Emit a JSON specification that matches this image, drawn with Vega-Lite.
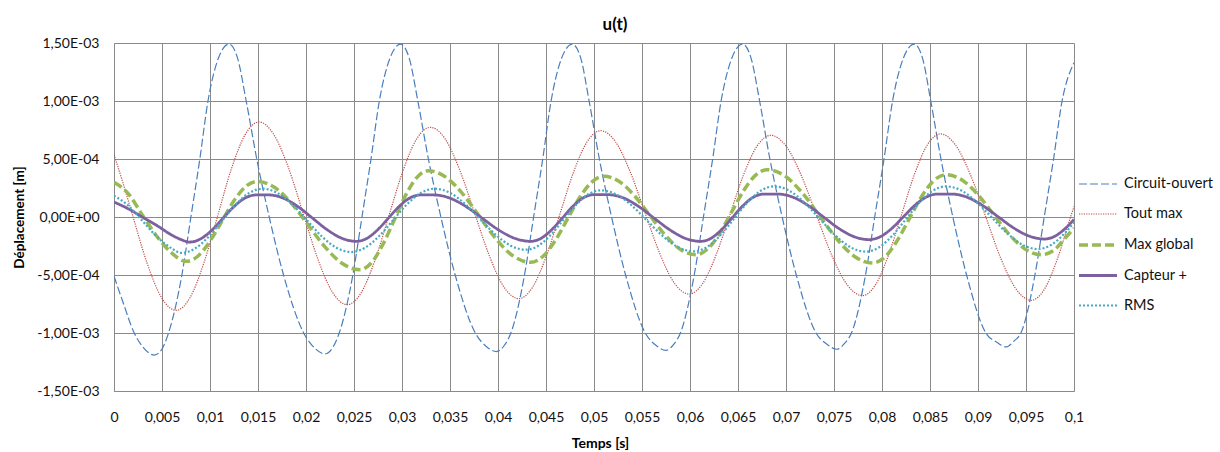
{
"$schema": "https://vega.github.io/schema/vega-lite/v6.json",
"width": 960, "height": 348,
"autosize": {"type": "none"},
"padding": {"left": 114, "top": 43, "right": 146, "bottom": 61},
"background": "white",
"title": {"text": "u(t)", "fontSize": 17, "font": "Lato", "fontWeight": "bold", "color": "#000", "anchor": "middle", "dx": 21, "offset": 2},
"config": {"view": {"stroke": null}, "font": "Lato"},
"data": {"values": [
{"s":"Circuit-ouvert","t":0,"v":-5.1e-4},{"s":"Circuit-ouvert","t":1.0e-3,"v":-7.5e-4},{"s":"Circuit-ouvert","t":2.0e-3,"v":-9.8e-4},{"s":"Circuit-ouvert","t":3.0e-3,"v":-11.2e-4},{"s":"Circuit-ouvert","t":4.2e-3,"v":-11.9e-4},{"s":"Circuit-ouvert","t":4.98e-3,"v":-11.4e-4},{"s":"Circuit-ouvert","t":5.68e-3,"v":-10e-4},{"s":"Circuit-ouvert","t":7.07e-3,"v":-5e-4},{"s":"Circuit-ouvert","t":8.01e-3,"v":0},{"s":"Circuit-ouvert","t":8.94e-3,"v":5e-4},{"s":"Circuit-ouvert","t":9.79e-3,"v":10e-4},{"s":"Circuit-ouvert","t":10.88e-3,"v":13.7e-4},{"s":"Circuit-ouvert","t":11.97e-3,"v":14.9e-4},
{"s":"Circuit-ouvert","t":12.87e-3,"v":13.7e-4},{"s":"Circuit-ouvert","t":13.77e-3,"v":10e-4},{"s":"Circuit-ouvert","t":14.87e-3,"v":5e-4},{"s":"Circuit-ouvert","t":16.17e-3,"v":0},{"s":"Circuit-ouvert","t":17.66e-3,"v":-5e-4},{"s":"Circuit-ouvert","t":19.76e-3,"v":-10e-4},{"s":"Circuit-ouvert","t":20.96e-3,"v":-11.35e-4},{"s":"Circuit-ouvert","t":21.96e-3,"v":-11.8e-4},
{"s":"Circuit-ouvert","t":22.75e-3,"v":-11.3e-4},{"s":"Circuit-ouvert","t":23.46e-3,"v":-10e-4},{"s":"Circuit-ouvert","t":24.88e-3,"v":-5e-4},{"s":"Circuit-ouvert","t":25.83e-3,"v":0},{"s":"Circuit-ouvert","t":26.77e-3,"v":5e-4},{"s":"Circuit-ouvert","t":27.64e-3,"v":10e-4},{"s":"Circuit-ouvert","t":28.75e-3,"v":13.7e-4},{"s":"Circuit-ouvert","t":29.85e-3,"v":14.9e-4},
{"s":"Circuit-ouvert","t":30.75e-3,"v":13.7e-4},{"s":"Circuit-ouvert","t":31.65e-3,"v":10e-4},{"s":"Circuit-ouvert","t":32.75e-3,"v":5e-4},{"s":"Circuit-ouvert","t":34.05e-3,"v":0},{"s":"Circuit-ouvert","t":35.54e-3,"v":-5e-4},{"s":"Circuit-ouvert","t":37.64e-3,"v":-10e-4},{"s":"Circuit-ouvert","t":38.84e-3,"v":-11.2e-4},{"s":"Circuit-ouvert","t":39.84e-3,"v":-11.6e-4},
{"s":"Circuit-ouvert","t":40.63e-3,"v":-11.1e-4},{"s":"Circuit-ouvert","t":41.34e-3,"v":-10e-4},{"s":"Circuit-ouvert","t":42.76e-3,"v":-5e-4},{"s":"Circuit-ouvert","t":43.71e-3,"v":0},{"s":"Circuit-ouvert","t":44.66e-3,"v":5e-4},{"s":"Circuit-ouvert","t":45.53e-3,"v":10e-4},{"s":"Circuit-ouvert","t":46.63e-3,"v":13.7e-4},{"s":"Circuit-ouvert","t":47.74e-3,"v":14.9e-4},
{"s":"Circuit-ouvert","t":48.62e-3,"v":13.7e-4},{"s":"Circuit-ouvert","t":49.49e-3,"v":10e-4},{"s":"Circuit-ouvert","t":50.56e-3,"v":5e-4},{"s":"Circuit-ouvert","t":51.83e-3,"v":0},{"s":"Circuit-ouvert","t":53.29e-3,"v":-5e-4},{"s":"Circuit-ouvert","t":55.34e-3,"v":-10e-4},{"s":"Circuit-ouvert","t":56.51e-3,"v":-11.1e-4},{"s":"Circuit-ouvert","t":57.48e-3,"v":-11.5e-4},
{"s":"Circuit-ouvert","t":58.28e-3,"v":-11.0e-4},{"s":"Circuit-ouvert","t":59.0e-3,"v":-10e-4},{"s":"Circuit-ouvert","t":60.44e-3,"v":-5e-4},{"s":"Circuit-ouvert","t":61.4e-3,"v":0},{"s":"Circuit-ouvert","t":62.36e-3,"v":5e-4},{"s":"Circuit-ouvert","t":63.24e-3,"v":10e-4},{"s":"Circuit-ouvert","t":64.36e-3,"v":13.7e-4},{"s":"Circuit-ouvert","t":65.48e-3,"v":14.9e-4},
{"s":"Circuit-ouvert","t":66.36e-3,"v":13.7e-4},{"s":"Circuit-ouvert","t":67.25e-3,"v":10e-4},{"s":"Circuit-ouvert","t":68.32e-3,"v":5e-4},{"s":"Circuit-ouvert","t":69.6e-3,"v":0},{"s":"Circuit-ouvert","t":71.07e-3,"v":-5e-4},{"s":"Circuit-ouvert","t":73.13e-3,"v":-10e-4},{"s":"Circuit-ouvert","t":74.31e-3,"v":-11.0e-4},{"s":"Circuit-ouvert","t":75.29e-3,"v":-11.4e-4},
{"s":"Circuit-ouvert","t":76.1e-3,"v":-10.9e-4},{"s":"Circuit-ouvert","t":76.82e-3,"v":-10e-4},{"s":"Circuit-ouvert","t":78.28e-3,"v":-5e-4},{"s":"Circuit-ouvert","t":79.24e-3,"v":0},{"s":"Circuit-ouvert","t":80.21e-3,"v":5e-4},{"s":"Circuit-ouvert","t":81.1e-3,"v":10e-4},{"s":"Circuit-ouvert","t":82.23e-3,"v":13.7e-4},{"s":"Circuit-ouvert","t":83.36e-3,"v":14.9e-4},
{"s":"Circuit-ouvert","t":84.22e-3,"v":13.7e-4},{"s":"Circuit-ouvert","t":85.08e-3,"v":10e-4},{"s":"Circuit-ouvert","t":86.14e-3,"v":5e-4},{"s":"Circuit-ouvert","t":87.38e-3,"v":0},{"s":"Circuit-ouvert","t":88.81e-3,"v":-5e-4},{"s":"Circuit-ouvert","t":90.82e-3,"v":-10e-4},{"s":"Circuit-ouvert","t":91.97e-3,"v":-10.8e-4},{"s":"Circuit-ouvert","t":92.93e-3,"v":-11.2e-4},
{"s":"Circuit-ouvert","t":93.74e-3,"v":-10.7e-4},{"s":"Circuit-ouvert","t":94.47e-3,"v":-10e-4},{"s":"Circuit-ouvert","t":95.93e-3,"v":-5e-4},{"s":"Circuit-ouvert","t":96.9e-3,"v":0},{"s":"Circuit-ouvert","t":97.87e-3,"v":5e-4},{"s":"Circuit-ouvert","t":98.76e-3,"v":10e-4},{"s":"Circuit-ouvert","t":100e-3,"v":13.3e-4},

{"s":"Tout max","t":0,"v":5.37e-4},{"s":"Tout max","t":0.97e-3,"v":2.85e-4},{"s":"Tout max","t":1.89e-3,"v":0.28e-4},{"s":"Tout max","t":3.41e-3,"v":-3.89e-4},{"s":"Tout max","t":4.94e-3,"v":-6.93e-4},{"s":"Tout max","t":6.47e-3,"v":-8.05e-4},
{"s":"Tout max","t":7.91e-3,"v":-6.96e-4},{"s":"Tout max","t":9.35e-3,"v":-3.99e-4},{"s":"Tout max","t":10.79e-3,"v":0.07e-4},{"s":"Tout max","t":12.22e-3,"v":4.13e-4},{"s":"Tout max","t":13.66e-3,"v":7.10e-4},{"s":"Tout max","t":15.1e-3,"v":8.19e-4},
{"s":"Tout max","t":16.63e-3,"v":7.13e-4},{"s":"Tout max","t":18.17e-3,"v":4.25e-4},{"s":"Tout max","t":19.7e-3,"v":0.32e-4},{"s":"Tout max","t":21.23e-3,"v":-3.62e-4},{"s":"Tout max","t":22.77e-3,"v":-6.50e-4},{"s":"Tout max","t":24.3e-3,"v":-7.56e-4},
{"s":"Tout max","t":25.74e-3,"v":-6.54e-4},{"s":"Tout max","t":27.18e-3,"v":-3.74e-4},{"s":"Tout max","t":28.63e-3,"v":0.09e-4},{"s":"Tout max","t":30.07e-3,"v":3.91e-4},{"s":"Tout max","t":31.51e-3,"v":6.71e-4},{"s":"Tout max","t":32.95e-3,"v":7.73e-4},
{"s":"Tout max","t":34.49e-3,"v":6.74e-4},{"s":"Tout max","t":36.02e-3,"v":4.04e-4},{"s":"Tout max","t":37.56e-3,"v":0.35e-4},{"s":"Tout max","t":39.1e-3,"v":-3.35e-4},{"s":"Tout max","t":40.63e-3,"v":-6.05e-4},{"s":"Tout max","t":42.17e-3,"v":-7.04e-4},
{"s":"Tout max","t":43.59e-3,"v":-6.07e-4},{"s":"Tout max","t":45.01e-3,"v":-3.42e-4},{"s":"Tout max","t":46.43e-3,"v":0.2e-4},{"s":"Tout max","t":47.85e-3,"v":3.82e-4},{"s":"Tout max","t":49.27e-3,"v":6.47e-4},{"s":"Tout max","t":50.69e-3,"v":7.44e-4},
{"s":"Tout max","t":52.23e-3,"v":6.50e-4},{"s":"Tout max","t":53.76e-3,"v":3.92e-4},{"s":"Tout max","t":55.3e-3,"v":0.4e-4},{"s":"Tout max","t":56.84e-3,"v":-3.12e-4},{"s":"Tout max","t":58.37e-3,"v":-5.70e-4},{"s":"Tout max","t":59.91e-3,"v":-6.64e-4},
{"s":"Tout max","t":61.33e-3,"v":-5.72e-4},{"s":"Tout max","t":62.74e-3,"v":-3.22e-4},{"s":"Tout max","t":64.16e-3,"v":0.2e-4},{"s":"Tout max","t":65.57e-3,"v":3.62e-4},{"s":"Tout max","t":66.99e-3,"v":6.12e-4},{"s":"Tout max","t":68.4e-3,"v":7.04e-4},
{"s":"Tout max","t":70.0e-3,"v":6.11e-4},{"s":"Tout max","t":71.59e-3,"v":3.59e-4},{"s":"Tout max","t":73.19e-3,"v":0.13e-4},{"s":"Tout max","t":74.78e-3,"v":-3.33e-4},{"s":"Tout max","t":76.38e-3,"v":-5.85e-4},{"s":"Tout max","t":77.97e-3,"v":-6.78e-4},
{"s":"Tout max","t":79.32e-3,"v":-5.85e-4},{"s":"Tout max","t":80.67e-3,"v":-3.30e-4},{"s":"Tout max","t":82.03e-3,"v":0.19e-4},{"s":"Tout max","t":83.38e-3,"v":3.68e-4},{"s":"Tout max","t":84.73e-3,"v":6.23e-4},{"s":"Tout max","t":86.08e-3,"v":7.16e-4},
{"s":"Tout max","t":87.66e-3,"v":6.20e-4},{"s":"Tout max","t":89.24e-3,"v":3.58e-4},{"s":"Tout max","t":90.82e-3,"v":-0.01e-4},{"s":"Tout max","t":92.39e-3,"v":-3.60e-4},{"s":"Tout max","t":93.97e-3,"v":-6.22e-4},{"s":"Tout max","t":95.55e-3,"v":-7.18e-4},
{"s":"Tout max","t":96.92e-3,"v":-6.22e-4},{"s":"Tout max","t":98.28e-3,"v":-3.59e-4},{"s":"Tout max","t":99.65e-3,"v":0.01e-4},{"s":"Tout max","t":100e-3,"v":0.9e-4},

{"s":"Max global","t":0,"v":2.99e-4},{"s":"Max global","t":1.5e-3,"v":2.0e-4},{"s":"Max global","t":3.0e-3,"v":0.1e-4},{"s":"Max global","t":4.5e-3,"v":-1.7e-4},{"s":"Max global","t":6.0e-3,"v":-3.1e-4},{"s":"Max global","t":7.52e-3,"v":-3.82e-4},
{"s":"Max global","t":8.76e-3,"v":-3.36e-4},{"s":"Max global","t":9.99e-3,"v":-2.10e-4},{"s":"Max global","t":11.23e-3,"v":-0.38e-4},{"s":"Max global","t":12.46e-3,"v":1.35e-4},{"s":"Max global","t":13.70e-3,"v":2.61e-4},{"s":"Max global","t":14.93e-3,"v":3.07e-4},
{"s":"Max global","t":16.71e-3,"v":2.56e-4},{"s":"Max global","t":18.49e-3,"v":1.17e-4},{"s":"Max global","t":20.27e-3,"v":-0.74e-4},{"s":"Max global","t":22.04e-3,"v":-2.64e-4},{"s":"Max global","t":23.82e-3,"v":-4.03e-4},{"s":"Max global","t":25.6e-3,"v":-4.54e-4},
{"s":"Max global","t":26.79e-3,"v":-3.97e-4},{"s":"Max global","t":27.98e-3,"v":-2.41e-4},{"s":"Max global","t":29.18e-3,"v":-0.28e-4},{"s":"Max global","t":30.37e-3,"v":1.86e-4},{"s":"Max global","t":31.56e-3,"v":3.42e-4},{"s":"Max global","t":32.75e-3,"v":3.99e-4},
{"s":"Max global","t":34.52e-3,"v":3.46e-4},{"s":"Max global","t":36.3e-3,"v":2.02e-4},{"s":"Max global","t":38.07e-3,"v":0.04e-4},{"s":"Max global","t":39.84e-3,"v":-1.94e-4},{"s":"Max global","t":41.62e-3,"v":-3.38e-4},{"s":"Max global","t":43.39e-3,"v":-3.91e-4},
{"s":"Max global","t":44.67e-3,"v":-3.41e-4},{"s":"Max global","t":45.94e-3,"v":-2.06e-4},{"s":"Max global","t":47.22e-3,"v":-0.2e-4},{"s":"Max global","t":48.49e-3,"v":1.66e-4},{"s":"Max global","t":49.77e-3,"v":3.01e-4},{"s":"Max global","t":51.04e-3,"v":3.51e-4},
{"s":"Max global","t":52.63e-3,"v":3.06e-4},{"s":"Max global","t":54.23e-3,"v":1.82e-4},{"s":"Max global","t":55.82e-3,"v":0.13e-4},{"s":"Max global","t":57.41e-3,"v":-1.56e-4},{"s":"Max global","t":59.01e-3,"v":-2.80e-4},{"s":"Max global","t":60.6e-3,"v":-3.25e-4},
{"s":"Max global","t":61.84e-3,"v":-2.76e-4},{"s":"Max global","t":63.08e-3,"v":-1.42e-4},{"s":"Max global","t":64.33e-3,"v":0.42e-4},{"s":"Max global","t":65.57e-3,"v":2.25e-4},{"s":"Max global","t":66.81e-3,"v":3.59e-4},{"s":"Max global","t":68.05e-3,"v":4.08e-4},
{"s":"Max global","t":69.88e-3,"v":3.54e-4},{"s":"Max global","t":71.7e-3,"v":2.07e-4},{"s":"Max global","t":73.53e-3,"v":0.06e-4},{"s":"Max global","t":75.36e-3,"v":-1.96e-4},{"s":"Max global","t":77.18e-3,"v":-3.43e-4},{"s":"Max global","t":79.01e-3,"v":-3.97e-4},
{"s":"Max global","t":80.29e-3,"v":-3.46e-4},{"s":"Max global","t":81.56e-3,"v":-2.07e-4},{"s":"Max global","t":82.84e-3,"v":-0.16e-4},{"s":"Max global","t":84.11e-3,"v":1.75e-4},{"s":"Max global","t":85.39e-3,"v":3.14e-4},{"s":"Max global","t":86.67e-3,"v":3.65e-4},
{"s":"Max global","t":88.33e-3,"v":3.19e-4},{"s":"Max global","t":89.98e-3,"v":1.93e-4},{"s":"Max global","t":91.64e-3,"v":0.2e-4},{"s":"Max global","t":93.29e-3,"v":-1.53e-4},{"s":"Max global","t":94.95e-3,"v":-2.79e-4},{"s":"Max global","t":96.6e-3,"v":-3.25e-4},
{"s":"Max global","t":97.85e-3,"v":-2.9e-4},{"s":"Max global","t":99.1e-3,"v":-1.8e-4},{"s":"Max global","t":100e-3,"v":-0.95e-4},

{"s":"Capteur +","t":0,"v":1.29e-4},{"s":"Capteur +","t":1.5e-3,"v":0.7e-4},{"s":"Capteur +","t":3.0e-3,"v":-0.03e-4},{"s":"Capteur +","t":4.5e-3,"v":-0.75e-4},{"s":"Capteur +","t":6.0e-3,"v":-1.55e-4},{"s":"Capteur +","t":7.0e-3,"v":-1.95e-4},{"s":"Capteur +","t":7.86e-3,"v":-2.16e-4},
{"s":"Capteur +","t":9.02e-3,"v":-1.89e-4},{"s":"Capteur +","t":10.17e-3,"v":-1.15e-4},{"s":"Capteur +","t":11.33e-3,"v":-0.13e-4},{"s":"Capteur +","t":12.49e-3,"v":0.89e-4},{"s":"Capteur +","t":13.64e-3,"v":1.63e-4},{"s":"Capteur +","t":14.8e-3,"v":1.90e-4},{"s":"Capteur +","t":16.1e-3,"v":1.90e-4},
{"s":"Capteur +","t":17.63e-3,"v":1.63e-4},{"s":"Capteur +","t":19.15e-3,"v":0.90e-4},{"s":"Capteur +","t":20.68e-3,"v":-0.10e-4},{"s":"Capteur +","t":22.21e-3,"v":-1.10e-4},{"s":"Capteur +","t":23.73e-3,"v":-1.83e-4},{"s":"Capteur +","t":25.26e-3,"v":-2.10e-4},
{"s":"Capteur +","t":26.37e-3,"v":-1.83e-4},{"s":"Capteur +","t":27.47e-3,"v":-1.10e-4},{"s":"Capteur +","t":28.58e-3,"v":-0.10e-4},{"s":"Capteur +","t":29.69e-3,"v":0.90e-4},{"s":"Capteur +","t":30.79e-3,"v":1.63e-4},{"s":"Capteur +","t":31.9e-3,"v":1.90e-4},{"s":"Capteur +","t":33.3e-3,"v":1.90e-4},
{"s":"Capteur +","t":34.98e-3,"v":1.63e-4},{"s":"Capteur +","t":36.67e-3,"v":0.90e-4},{"s":"Capteur +","t":38.35e-3,"v":-0.10e-4},{"s":"Capteur +","t":40.03e-3,"v":-1.10e-4},{"s":"Capteur +","t":41.72e-3,"v":-1.83e-4},{"s":"Capteur +","t":43.4e-3,"v":-2.10e-4},
{"s":"Capteur +","t":44.5e-3,"v":-1.83e-4},{"s":"Capteur +","t":45.6e-3,"v":-1.09e-4},{"s":"Capteur +","t":46.7e-3,"v":-0.09e-4},{"s":"Capteur +","t":47.8e-3,"v":0.92e-4},{"s":"Capteur +","t":48.9e-3,"v":1.66e-4},{"s":"Capteur +","t":50.0e-3,"v":1.93e-4},{"s":"Capteur +","t":51.4e-3,"v":1.93e-4},
{"s":"Capteur +","t":53.02e-3,"v":1.66e-4},{"s":"Capteur +","t":54.63e-3,"v":0.92e-4},{"s":"Capteur +","t":56.25e-3,"v":-0.09e-4},{"s":"Capteur +","t":57.87e-3,"v":-1.09e-4},{"s":"Capteur +","t":59.48e-3,"v":-1.83e-4},{"s":"Capteur +","t":61.1e-3,"v":-2.10e-4},
{"s":"Capteur +","t":62.2e-3,"v":-1.83e-4},{"s":"Capteur +","t":63.3e-3,"v":-1.08e-4},{"s":"Capteur +","t":64.4e-3,"v":-0.06e-4},{"s":"Capteur +","t":65.5e-3,"v":0.96e-4},{"s":"Capteur +","t":66.6e-3,"v":1.71e-4},{"s":"Capteur +","t":67.7e-3,"v":1.98e-4},{"s":"Capteur +","t":69.1e-3,"v":1.98e-4},
{"s":"Capteur +","t":70.69e-3,"v":1.72e-4},{"s":"Capteur +","t":72.29e-3,"v":1.00e-4},{"s":"Capteur +","t":73.88e-3,"v":0.02e-4},{"s":"Capteur +","t":75.47e-3,"v":-0.97e-4},{"s":"Capteur +","t":77.07e-3,"v":-1.69e-4},{"s":"Capteur +","t":78.66e-3,"v":-1.95e-4},
{"s":"Capteur +","t":79.85e-3,"v":-1.69e-4},{"s":"Capteur +","t":81.04e-3,"v":-0.97e-4},{"s":"Capteur +","t":82.23e-3,"v":0.02e-4},{"s":"Capteur +","t":83.42e-3,"v":1.00e-4},{"s":"Capteur +","t":84.61e-3,"v":1.72e-4},{"s":"Capteur +","t":85.8e-3,"v":1.98e-4},{"s":"Capteur +","t":87.2e-3,"v":1.98e-4},
{"s":"Capteur +","t":88.82e-3,"v":1.72e-4},{"s":"Capteur +","t":90.44e-3,"v":1.01e-4},{"s":"Capteur +","t":92.07e-3,"v":0.04e-4},{"s":"Capteur +","t":93.69e-3,"v":-0.93e-4},{"s":"Capteur +","t":95.31e-3,"v":-1.64e-4},{"s":"Capteur +","t":96.93e-3,"v":-1.90e-4},
{"s":"Capteur +","t":98.05e-3,"v":-1.64e-4},{"s":"Capteur +","t":99.16e-3,"v":-0.93e-4},{"s":"Capteur +","t":100e-3,"v":-0.22e-4},

{"s":"RMS","t":0,"v":1.84e-4},{"s":"RMS","t":1.5e-3,"v":0.97e-4},{"s":"RMS","t":3.0e-3,"v":-0.37e-4},{"s":"RMS","t":4.5e-3,"v":-1.72e-4},{"s":"RMS","t":6.0e-3,"v":-2.70e-4},{"s":"RMS","t":7.0e-3,"v":-3.10e-4},
{"s":"RMS","t":8.42e-3,"v":-2.73e-4},{"s":"RMS","t":9.83e-3,"v":-1.72e-4},{"s":"RMS","t":11.25e-3,"v":-0.33e-4},{"s":"RMS","t":12.67e-3,"v":1.06e-4},{"s":"RMS","t":14.08e-3,"v":2.07e-4},{"s":"RMS","t":15.5e-3,"v":2.44e-4},
{"s":"RMS","t":17.03e-3,"v":2.07e-4},{"s":"RMS","t":18.57e-3,"v":1.08e-4},{"s":"RMS","t":20.1e-3,"v":-0.29e-4},{"s":"RMS","t":21.63e-3,"v":-1.66e-4},{"s":"RMS","t":23.17e-3,"v":-2.65e-4},{"s":"RMS","t":24.7e-3,"v":-3.02e-4},
{"s":"RMS","t":26.15e-3,"v":-2.65e-4},{"s":"RMS","t":27.6e-3,"v":-1.66e-4},{"s":"RMS","t":29.05e-3,"v":-0.29e-4},{"s":"RMS","t":30.5e-3,"v":1.08e-4},{"s":"RMS","t":31.95e-3,"v":2.07e-4},{"s":"RMS","t":33.4e-3,"v":2.44e-4},
{"s":"RMS","t":34.98e-3,"v":2.09e-4},{"s":"RMS","t":36.57e-3,"v":1.13e-4},{"s":"RMS","t":38.15e-3,"v":-0.19e-4},{"s":"RMS","t":39.73e-3,"v":-1.51e-4},{"s":"RMS","t":41.32e-3,"v":-2.47e-4},{"s":"RMS","t":42.9e-3,"v":-2.82e-4},
{"s":"RMS","t":44.2e-3,"v":-2.48e-4},{"s":"RMS","t":45.5e-3,"v":-1.54e-4},{"s":"RMS","t":46.8e-3,"v":-0.26e-4},{"s":"RMS","t":48.1e-3,"v":1.02e-4},{"s":"RMS","t":49.4e-3,"v":1.96e-4},{"s":"RMS","t":50.7e-3,"v":2.30e-4},
{"s":"RMS","t":52.32e-3,"v":1.95e-4},{"s":"RMS","t":53.93e-3,"v":0.99e-4},{"s":"RMS","t":55.55e-3,"v":-0.33e-4},{"s":"RMS","t":57.17e-3,"v":-1.65e-4},{"s":"RMS","t":58.78e-3,"v":-2.61e-4},{"s":"RMS","t":60.4e-3,"v":-2.96e-4},
{"s":"RMS","t":61.79e-3,"v":-2.58e-4},{"s":"RMS","t":63.18e-3,"v":-1.56e-4},{"s":"RMS","t":64.58e-3,"v":-0.16e-4},{"s":"RMS","t":65.97e-3,"v":1.24e-4},{"s":"RMS","t":67.36e-3,"v":2.26e-4},{"s":"RMS","t":68.75e-3,"v":2.64e-4},
{"s":"RMS","t":70.35e-3,"v":2.26e-4},{"s":"RMS","t":71.94e-3,"v":1.23e-4},{"s":"RMS","t":73.54e-3,"v":-0.18e-4},{"s":"RMS","t":75.13e-3,"v":-1.58e-4},{"s":"RMS","t":76.73e-3,"v":-2.61e-4},{"s":"RMS","t":78.32e-3,"v":-2.99e-4},
{"s":"RMS","t":79.71e-3,"v":-2.61e-4},{"s":"RMS","t":81.1e-3,"v":-1.58e-4},{"s":"RMS","t":82.5e-3,"v":-0.18e-4},{"s":"RMS","t":83.89e-3,"v":1.23e-4},{"s":"RMS","t":85.28e-3,"v":2.26e-4},{"s":"RMS","t":86.67e-3,"v":2.64e-4},
{"s":"RMS","t":88.27e-3,"v":2.28e-4},{"s":"RMS","t":89.86e-3,"v":1.29e-4},{"s":"RMS","t":91.46e-3,"v":-0.06e-4},{"s":"RMS","t":93.05e-3,"v":-1.41e-4},{"s":"RMS","t":94.65e-3,"v":-2.40e-4},{"s":"RMS","t":96.24e-3,"v":-2.76e-4},
{"s":"RMS","t":97.63e-3,"v":-2.40e-4},{"s":"RMS","t":99.02e-3,"v":-1.41e-4},{"s":"RMS","t":100e-3,"v":-0.47e-4}
]},
"mark": {"type": "line", "interpolate": "monotone", "clip": true},
"encoding": {
"x": {"field": "t", "type": "quantitative", "scale": {"domain": [0, 0.1], "nice": false, "zero": false},
 "axis": {"values": [0,0.005,0.01,0.015,0.02,0.025,0.03,0.035,0.04,0.045,0.05,0.055,0.06,0.065,0.07,0.075,0.08,0.085,0.09,0.095,0.1],
  "labelExpr": "replace(format(datum.value, '~g'), '.', ',')",
  "grid": true, "gridColor": "#8a8a8a", "gridWidth": 1, "gridOpacity": 1, "ticks": false,
  "domainColor": "#8a8a8a", "domainWidth": 1,
  "labelFont": "Lato", "labelFontSize": 14, "labelColor": "#111", "labelPadding": 19, "labelOverlap": false, "labelFlush": false,
  "title": "Temps [s]", "titleFont": "Lato", "titleFontSize": 14, "titleFontWeight": "bold", "titleColor": "#000",
  "titleX": 486, "titleY": 52, "titleAlign": "center", "titleBaseline": "middle"}},
"y": {"field": "v", "type": "quantitative", "scale": {"domain": [-0.0015, 0.0015], "nice": false, "zero": false},
 "axis": {"values": [-0.0015,-0.001,-0.0005,0,0.0005,0.001,0.0015],
  "labelExpr": "datum.value == 0 ? '0,00E+00' : (datum.value < 0 ? '-' : '') + (abs(datum.value) > 0.0009 ? replace(format(abs(datum.value) * 1000, '.2f'), '.', ',') + 'E-03' : replace(format(abs(datum.value) * 10000, '.2f'), '.', ',') + 'E-04')",
  "grid": true, "gridColor": "#8a8a8a", "gridWidth": 1, "gridOpacity": 1, "ticks": false,
  "domainColor": "#8a8a8a", "domainWidth": 1,
  "labelFont": "Lato", "labelFontSize": 14, "labelColor": "#111", "labelPadding": 15, "labelOverlap": false, "labelFlush": false,
  "title": "Déplacement [m]", "titleFont": "Lato", "titleFontSize": 13.5, "titleFontWeight": "bold", "titleColor": "#000",
  "titleX": -95, "titleY": 174, "titleAngle": -90, "titleAlign": "center", "titleBaseline": "middle"}},
"color": {"field": "s", "type": "nominal",
 "scale": {"domain": ["Circuit-ouvert","Tout max","Max global","Capteur +","RMS"], "range": ["#4a7ebb","#be4b48","#98b954","#7d60a0","#46aac5"]},
 "legend": {"orient": "none", "legendX": 963, "legendY": 121, "title": null, "symbolType": "stroke", "symbolSize": 1444,
  "labelFont": "Lato", "labelFontSize": 14.5, "labelColor": "#111", "labelOffset": 5, "rowPadding": 3}},
"strokeDash": {"field": "s", "type": "nominal",
 "scale": {"type": "ordinal", "domain": ["Circuit-ouvert","Tout max","Max global","Capteur +","RMS"], "range": [[8,3],[1.2,1.2],[9,4],[1,0],[2,2]]}},
"strokeWidth": {"field": "s", "type": "nominal",
 "scale": {"type": "ordinal", "domain": ["Circuit-ouvert","Tout max","Max global","Capteur +","RMS"], "range": [1.2,1.2,3.5,2.8,2.2]}}
}
}
